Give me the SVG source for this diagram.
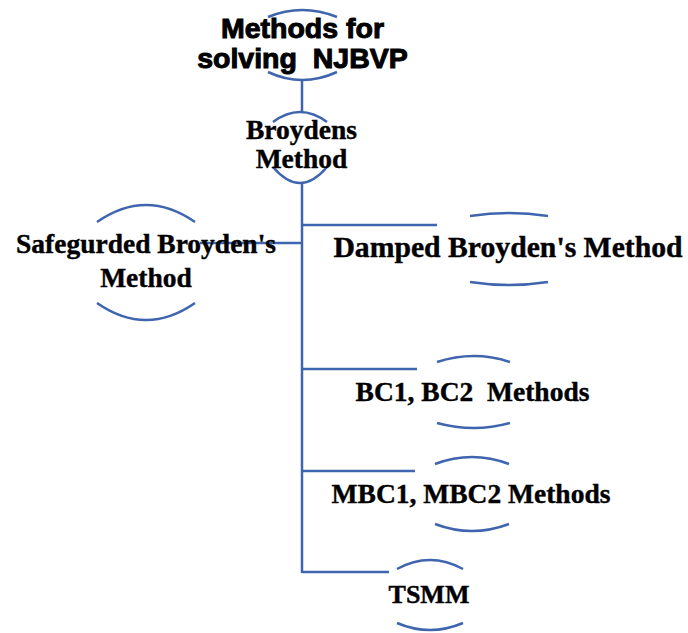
<svg xmlns="http://www.w3.org/2000/svg" width="688" height="633" viewBox="0 0 688 633">
<style>
.ln{fill:none;stroke:#3F65AE;stroke-width:2.5}
.arc{fill:none;stroke:#3F65AE;stroke-width:2.5}
.t{font-family:"Liberation Serif","Times New Roman",serif;font-weight:bold;font-size:27.5px;fill:#000;stroke:#000;stroke-width:0.4;text-anchor:middle}
.h{font-family:"Liberation Sans",Arial,sans-serif;font-weight:bold;font-size:28.5px;fill:#000;stroke:#000;stroke-width:1;text-anchor:middle}
</style>
<rect width="688" height="633" fill="#fff"/>
<g id="connectors">
<path class="ln" d="M302,80 V112 M302,183 V573 M200,243 H302 M302,225 H437 M302,369 H417 M302,471 H415 M302,572 H389"/>
</g>
<g id="title">
<path class="arc" d="M268,17 Q302,3 337,17 M268,72 Q302,88 337,72"/>
<text class="h" x="302.5" y="38">Methods for</text>
<text class="h" x="302.5" y="68" xml:space="preserve">solving  NJBVP</text>
</g>
<g id="broydens">
<path class="arc" d="M273,122 Q300,102 327,122 M273,167 Q300,199 327,167"/>
<text class="t" x="301.5" y="139">Broydens</text>
<text class="t" x="301.5" y="168">Method</text>
</g>
<g id="safeguarded">
<path class="arc" d="M97,222 Q146,188 195,222 M97,303 Q146,337 195,303"/>
<text class="t" x="146" y="253">Safegurded Broyden's</text>
<text class="t" x="146" y="287">Method</text>
</g>
<g id="damped">
<path class="arc" d="M470,216 Q509,210 548,216 M470,282 Q509,288 548,282"/>
<text class="t" x="508" y="257" style="font-size:29.7px">Damped Broyden's Method</text>
</g>
<g id="bc">
<path class="arc" d="M437,362 Q474,350 510,362 M437,423 Q474,433 510,423"/>
<text class="t" x="472.5" y="401" xml:space="preserve">BC1, BC2  Methods</text>
</g>
<g id="mbc">
<path class="arc" d="M435,464 Q472,450 509,464 M435,524 Q472,538 509,524"/>
<text class="t" x="471" y="503">MBC1, MBC2 Methods</text>
</g>
<g id="tsmm">
<path class="arc" d="M397,569 Q430,551 463,569 M397,623 Q430,637 463,623"/>
<text class="t" x="429" y="603" style="font-size:26px">TSMM</text>
</g>
</svg>
